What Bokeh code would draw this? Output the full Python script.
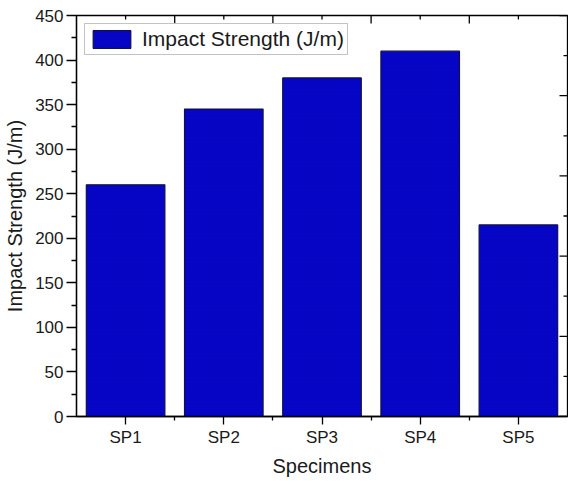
import math
from bokeh.plotting import figure
from bokeh.models import ColumnDataSource, FixedTicker, Range1d, Legend, LegendItem
from bokeh.embed import file_html
from bokeh.resources import INLINE

categories = ["SP1", "SP2", "SP3", "SP4", "SP5"]
impact_strength = [260, 345, 380, 410, 215]
y_ticks = [0, 50, 100, 150, 200, 250, 300, 350, 400, 450]
y_minor = [25, 75, 125, 175, 225, 275, 325, 375, 425]
x_minor = [1.5, 2.5, 3.5, 4.5]
right_major = [0, 90, 180, 270, 360, 450]
right_minor = [45, 135, 225, 315, 405]

FONT = "Liberation Sans"
xpos = list(range(1, len(categories) + 1))
x_lo, x_hi = 0.5, len(categories) + 0.5
y_lo, y_hi = 0, 450
src = ColumnDataSource(dict(x=xpos, top=impact_strength, cat=categories))

p = figure(width=568, height=479, output_backend="svg", toolbar_location=None,
           x_range=Range1d(x_lo, x_hi), y_range=Range1d(y_lo, y_hi),
           min_border_left=76, min_border_top=15, min_border_right=1, min_border_bottom=0)
p.xgrid.visible = False
p.ygrid.visible = False
p.outline_line_color = "black"
p.outline_line_width = 1.3

r = p.vbar(x="x", top="top", width=0.8, bottom=0, source=src,
           fill_color="#0606CC", line_color="#10104A", line_width=1.2,
           hatch_pattern="/", hatch_color="#000070", hatch_alpha=0.25, hatch_scale=3, hatch_weight=0.6)

xa = p.xaxis[0]
xa.ticker = FixedTicker(ticks=xpos, minor_ticks=x_minor)
xa.major_label_overrides = {i: c for i, c in zip(xpos, categories)}
ya = p.yaxis[0]
ya.ticker = FixedTicker(ticks=y_ticks, minor_ticks=y_minor)

for ax in (xa, ya):
    ax.axis_line_color = "black"
    ax.axis_line_width = 1.3
    ax.major_tick_line_color = "black"
    ax.minor_tick_line_color = "black"
    ax.major_tick_line_width = 1.3
    ax.minor_tick_line_width = 1.3
    ax.major_tick_in = 0
    ax.minor_tick_in = 0
    ax.major_label_text_font = FONT
    ax.major_label_text_font_size = "17px"
    ax.major_label_text_color = "#1a1a1a"
    ax.axis_label_text_font = FONT
    ax.axis_label_text_font_size = "20px"
    ax.axis_label_text_font_style = "normal"
    ax.axis_label_text_color = "#1a1a1a"

xa.major_tick_out = 8
xa.minor_tick_out = 4
ya.major_tick_out = 10
ya.minor_tick_out = 5

xa.axis_label = "Specimens"
xa.major_label_standoff = 3
xa.axis_label_standoff = 5
ya.axis_label = "Impact Strength (J/m)"
ya.major_label_standoff = 3
ya.axis_label_standoff = 6

# mirrored ticks on the top and right edges of the frame (pointing inward)
tick_style = dict(line_color="black", line_width=1.3, length_units="screen")
p.ray(x=x_minor, y=[y_hi] * len(x_minor), length=8, angle=-math.pi / 2, **tick_style)
p.ray(x=xpos, y=[y_hi] * len(xpos), length=4, angle=-math.pi / 2, **tick_style)
p.ray(x=[x_hi] * len(right_major), y=right_major, length=8, angle=math.pi, **tick_style)
p.ray(x=[x_hi] * len(right_minor), y=right_minor, length=4, angle=math.pi, **tick_style)

legend = Legend(items=[LegendItem(label="Impact Strength (J/m)", renderers=[r])],
                location="top_left", margin=8, padding=3, glyph_width=47, glyph_height=22,
                label_standoff=7, label_text_font=FONT, label_text_font_size="21px",
                label_text_color="#1a1a1a", border_line_color="#888888", border_line_width=1.2,
                label_height=22)
p.add_layout(legend, "center")

open("out.html", "w").write(file_html(p, INLINE))
